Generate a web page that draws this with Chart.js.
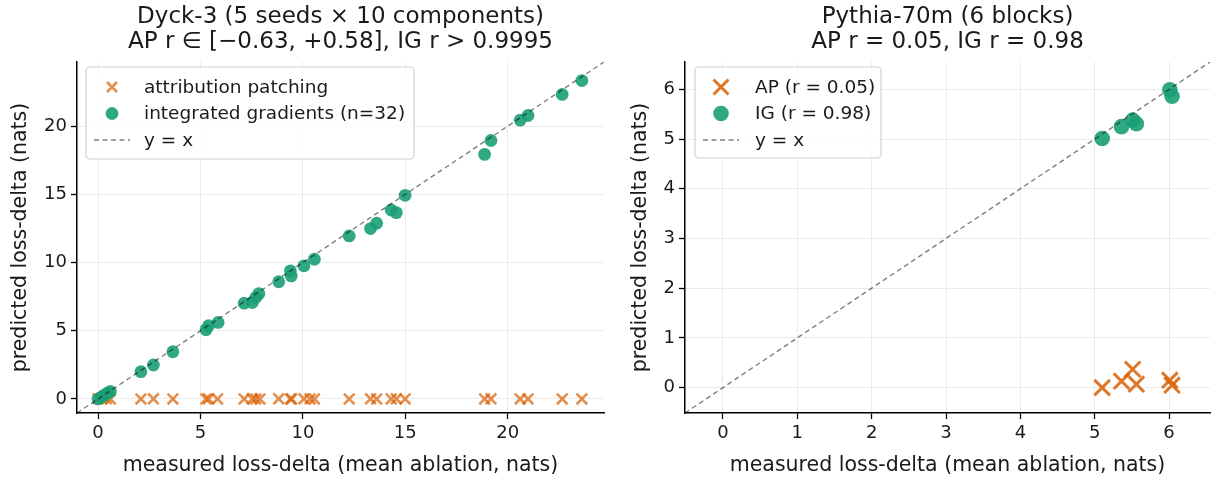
<!DOCTYPE html>
<html>
<head>
<meta charset="utf-8">
<script src="https://cdn.jsdelivr.net/npm/chart.js@4.4.1/dist/chart.umd.min.js"></script>
<style>
  html, body { margin: 0; padding: 0; background: #fff; }
  #wrap { position: relative; width: 1212px; height: 481px; }
  canvas { position: absolute; top: 0; }
  #left { left: 0; }
  #right { left: 612px; }
</style>
</head>
<body>
<div id="wrap">
  <canvas id="left" width="612" height="481"></canvas>
  <canvas id="right" width="600" height="481"></canvas>
</div>
<script>
// ---- Dyck-3 panel data ----
const dyckIgMeasured  = [0.0, 0.15, 0.3, 0.45, 0.6, 2.09, 2.70, 3.65, 5.27, 5.39, 5.86, 7.13, 7.53, 7.70, 7.85, 8.82, 9.39, 9.43, 10.05, 10.56, 12.26, 13.30, 13.60, 14.31, 14.56, 14.99, 18.87, 19.18, 20.61, 20.99, 22.66, 23.62];
const dyckIgPredicted = [0.0, 0.12, 0.28, 0.42, 0.55, 2.00, 2.49, 3.46, 5.07, 5.37, 5.61, 7.02, 7.07, 7.44, 7.72, 8.59, 9.39, 9.02, 9.76, 10.24, 11.95, 12.49, 12.88, 13.85, 13.66, 14.93, 17.93, 18.95, 20.44, 20.78, 22.32, 23.34];
const dyckApMeasured  = [0.0, 0.2, 0.4, 0.6, 2.09, 2.70, 3.65, 5.27, 5.39, 5.83, 7.13, 7.53, 7.70, 7.90, 8.82, 9.39, 9.45, 10.05, 10.35, 10.56, 12.26, 13.30, 13.60, 14.31, 14.56, 14.99, 18.87, 19.18, 20.61, 20.99, 22.66, 23.62];
const dyckApPredicted = [0.01, 0.0, 0.02, -0.01, 0.0, 0.01, 0.0, 0.0, 0.01, 0.0, 0.0, 0.01, 0.0, 0.0, 0.01, 0.0, 0.0, 0.01, 0.0, 0.0, 0.0, 0.01, 0.0, 0.0, 0.01, 0.0, 0.0, 0.01, 0.0, 0.0, 0.0, 0.0];
const dyckLim   = [-1.03, 24.7];
const dyckTicks = [0, 5, 10, 15, 20];
const dyckTitle = ['Dyck-3 (5 seeds \u00d7 10 components)', 'AP r \u2208 [\u22120.63, +0.58], IG r > 0.9995'];
const dyckLegend = ['attribution patching', 'integrated gradients (n=32)', 'y = x'];

// ---- Pythia panel data ----
const pyIgMeasured  = [5.10, 5.36, 5.51, 5.56, 6.01, 6.04];
const pyIgPredicted = [5.01, 5.25, 5.38, 5.31, 5.99, 5.86];
const pyApMeasured  = [5.10, 5.36, 5.51, 5.56, 6.01, 6.04];
const pyApPredicted = [0.00, 0.13, 0.37, 0.07, 0.15, 0.05];
const pyLim   = [-0.51, 6.55];
const pyTicks = [0, 1, 2, 3, 4, 5, 6];
const pyTitle = ['Pythia-70m (6 blocks)', 'AP r = 0.05, IG r = 0.98'];
const pyLegend = ['AP (r = 0.05)', 'IG (r = 0.98)', 'y = x'];

const xLabel = 'measured loss-delta (mean ablation, nats)';
const yLabel = 'predicted loss-delta (nats)';

const FONT = '"DejaVu Sans", sans-serif';
const INK = '#1a1a1a';
const GREEN = 'rgba(27,158,119,0.9)';
const ORANGE_L = 'rgba(217,95,2,0.7)';
const ORANGE_R = 'rgba(217,95,2,0.85)';
const DIAG = 'rgba(0,0,0,0.5)';

function pts(xs, ys) { return xs.map((x, i) => ({ x: x, y: ys[i] })); }

// titles and framed legend drawn on top
const panelText = {
  id: 'panelText',
  afterDraw(chart, args, o) {
    const ctx = chart.ctx, ca = chart.chartArea;
    ctx.save();
    ctx.fillStyle = INK;
    ctx.font = '23px ' + FONT;
    ctx.textAlign = 'center';
    ctx.textBaseline = 'middle';
    const cx = (ca.left + ca.right) / 2;
    o.title.forEach((t, i) => ctx.fillText(t, cx, o.titleY[i]));

    // legend frame
    const L = ca.left + o.lx, T = ca.top + o.ly, W = o.lw, H = o.lh;
    ctx.beginPath();
    ctx.roundRect(L, T, W, H, 4);
    ctx.fillStyle = 'rgba(255,255,255,0.8)';
    ctx.fill();
    ctx.strokeStyle = '#d0d0d0';
    ctx.lineWidth = 1.2;
    ctx.stroke();

    const mx = L + o.mx, rows = [T + 20, T + 46.5, T + 73];
    // x marker
    ctx.strokeStyle = o.apColor;
    ctx.lineWidth = o.xw;
    const s = o.xs;
    ctx.beginPath();
    ctx.moveTo(mx - s, rows[0] - s); ctx.lineTo(mx + s, rows[0] + s);
    ctx.moveTo(mx - s, rows[0] + s); ctx.lineTo(mx + s, rows[0] - s);
    ctx.stroke();
    // circle
    ctx.fillStyle = GREEN;
    ctx.beginPath();
    ctx.arc(mx, rows[1], o.cr, 0, Math.PI * 2);
    ctx.fill();
    // dashed line
    ctx.strokeStyle = DIAG;
    ctx.lineWidth = 1.4;
    ctx.setLineDash([5, 3.5]);
    ctx.beginPath();
    ctx.moveTo(mx - 18, rows[2]); ctx.lineTo(mx + 18, rows[2]);
    ctx.stroke();
    ctx.setLineDash([]);

    ctx.fillStyle = INK;
    ctx.font = '18.5px ' + FONT;
    ctx.textAlign = 'left';
    o.labels.forEach((t, i) => ctx.fillText(t, L + o.tx, rows[i] + 1));
    ctx.restore();
  }
};

function makeChart(id, d) {
  const axis = (title, ticks, fitFn, pad) => ({
    type: 'linear',
    min: d.lim[0], max: d.lim[1],
    afterBuildTicks: s => { s.ticks = ticks.map(v => ({ value: v })); },
    afterFit: fitFn,
    grid: { color: '#ebebeb', lineWidth: 1, tickColor: '#000', tickLength: 6, tickWidth: 1.3 },
    border: { color: '#000', width: 1.5 },
    ticks: { font: { size: 18, family: FONT }, color: INK, padding: 4, maxRotation: 0 },
    title: { display: true, text: title, color: INK, font: { size: 20.5, family: FONT }, padding: pad }
  });
  return new Chart(document.getElementById(id), {
    type: 'scatter',
    data: {
      datasets: [
        { type: 'line', data: [{ x: d.lim[0], y: d.lim[0] }, { x: d.lim[1], y: d.lim[1] }],
          borderColor: DIAG, borderWidth: 1.4, borderDash: [5, 3.5], pointRadius: 0, order: 1 },
        { data: pts(d.igX, d.igY), backgroundColor: GREEN, borderWidth: 0,
          pointRadius: d.cr, pointHoverRadius: d.cr, order: 2 },
        { data: pts(d.apX, d.apY), pointStyle: 'crossRot', borderColor: d.apColor,
          borderWidth: d.xw, pointRadius: d.xr, pointHoverRadius: d.xr, order: 3 }
      ]
    },
    options: {
      responsive: false, animation: false, devicePixelRatio: 1,
      layout: { autoPadding: false, padding: { top: 62, right: d.padR, left: 0, bottom: 0 } },
      plugins: { legend: { display: false }, tooltip: { enabled: false }, panelText: d.text },
      scales: {
        x: axis(xLabel, d.ticks, s => { s.height = 68; s.paddingLeft = 0; s.paddingRight = 0; }, { top: 4, bottom: 3 }),
        y: axis(yLabel, d.ticks, s => { s.width = d.yw; s.paddingTop = 0; s.paddingBottom = 0; }, { top: d.yTitlePad, bottom: 0 })
      }
    },
    plugins: [panelText]
  });
}

makeChart('left', {
  lim: dyckLim, ticks: dyckTicks, igX: dyckIgMeasured, igY: dyckIgPredicted,
  apX: dyckApMeasured, apY: dyckApPredicted, apColor: ORANGE_L,
  cr: 6.4, xr: 7.5, xw: 2.6, padR: 8, yw: 77, yTitlePad: 8,
  text: { title: dyckTitle, titleY: [17, 42], labels: dyckLegend, apColor: ORANGE_L,
          lx: 9, ly: 5, lw: 328, lh: 92, mx: 26, tx: 58, xs: 5, xw: 2.6, cr: 6.4 }
});
makeChart('right', {
  lim: pyLim, ticks: pyTicks, igX: pyIgMeasured, igY: pyIgPredicted,
  apX: pyApMeasured, apY: pyApPredicted, apColor: ORANGE_R,
  cr: 7.8, xr: 11, xw: 3, padR: 2, yw: 73, yTitlePad: 16.5,
  text: { title: pyTitle, titleY: [17, 42], labels: pyLegend, apColor: ORANGE_R,
          lx: 10, ly: 5, lw: 186, lh: 91, mx: 26, tx: 60, xs: 7.5, xw: 3, cr: 7.8 }
});
</script>
</body>
</html>
